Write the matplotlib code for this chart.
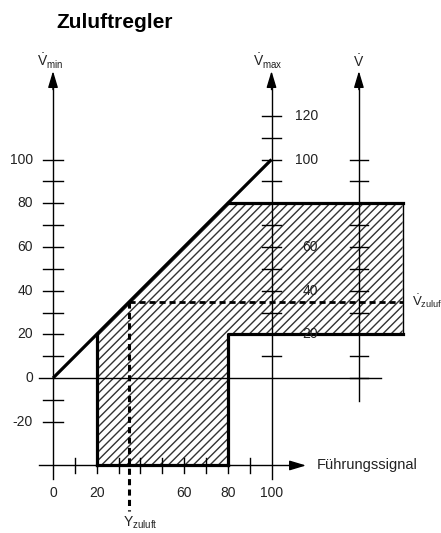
import matplotlib
matplotlib.use("Agg")
import matplotlib.pyplot as plt

plt.rcParams['font.family'] = ['Liberation Sans', 'DejaVu Sans']
plt.rcParams['mathtext.fontset'] = 'custom'
plt.rcParams['mathtext.rm'] = 'Liberation Sans'
plt.rcParams['mathtext.it'] = 'Liberation Sans'
plt.rcParams['hatch.linewidth'] = 1.0

# ---- data ----
title = "Zuluftregler"
x_label = "Führungssignal"
vmin_line_x = [0, 100]
vmin_line_y = [0, 100]
region_x = [20, 20, 80, 160, 160, 80, 80]
region_y = [-40, 20, 80, 80, 20, 20, -40]
y_zuluft = 35
v_zuluft = 35
left_tick_vals = [-20, -10, 10, 20, 30, 40, 50, 60, 70, 80, 90, 100]
left_tick_labels = ["100", "80", "60", "40", "20", "0", "-20"]
left_label_vals = [100, 80, 60, 40, 20, 0, -20]
vmax_tick_vals = [10, 20, 30, 40, 50, 60, 70, 80, 90, 100, 110, 120]
vmax_label_vals = [120, 100, 60, 40, 20]
vmax_labels = ["120", "100", "60", "40", "20"]
v_tick_vals = [0, 10, 20, 30, 40, 50, 60, 70, 80, 90, 100]
x_tick_vals = [10, 20, 30, 40, 50, 60, 70, 80, 90]
x_label_vals = [0, 20, 60, 80, 100]
x_labels = ["0", "20", "60", "80", "100"]
axis_x_vmin = 0
axis_x_vmax = 100
axis_x_v = 140
axis_y_base = -40

fig = plt.figure(figsize=(4.41, 5.33), dpi=100)
ax = fig.add_axes([0, 0, 1, 1])
ax.set_xlim(-24.26, 177.57)
ax.set_ylim(-70.9, 173.0)
ax.axis('off')

thin = 1.0
thick = 2.3
k = 'black'

# hatched region
ax.fill(region_x, region_y, facecolor='white', edgecolor='#333333', hatch='////', linewidth=0, zorder=1)

# zero line
ax.plot([-6.4, 150], [0, 0], color=k, lw=thin, zorder=2)

# vertical axes
ax.plot([axis_x_vmin, axis_x_vmin], [-46, 133], color=k, lw=thin, zorder=2)
ax.plot([axis_x_vmax, axis_x_vmax], [-46, 133], color=k, lw=thin, zorder=2)
ax.plot([axis_x_v, axis_x_v], [-10.5, 133], color=k, lw=thin, zorder=2)
for xa in [axis_x_vmin, axis_x_vmax, axis_x_v]:
    ax.annotate('', xy=(xa, 140.5), xytext=(xa, 132),
                arrowprops=dict(arrowstyle='-|>,head_length=1.0,head_width=0.3',
                                mutation_scale=10, color=k, lw=thin,
                                shrinkA=0, shrinkB=0))
# base (x) axis
ax.plot([-6.4, 110], [axis_y_base, axis_y_base], color=k, lw=thin, zorder=2)
ax.annotate('', xy=(115.8, axis_y_base), xytext=(108, axis_y_base),
            arrowprops=dict(arrowstyle='-|>,head_length=1.0,head_width=0.3',
                            mutation_scale=10, color=k, lw=thin,
                            shrinkA=0, shrinkB=0))

# ticks
for v in left_tick_vals:
    ax.plot([axis_x_vmin - 4.4, axis_x_vmin + 4.4], [v, v], color=k, lw=thin, zorder=2)
for v in vmax_tick_vals:
    ax.plot([axis_x_vmax - 4.2, axis_x_vmax + 4.2], [v, v], color=k, lw=thin, zorder=2)
for v in v_tick_vals:
    ax.plot([axis_x_v - 4.2, axis_x_v + 4.2], [v, v], color=k, lw=thin, zorder=2)
for v in x_tick_vals:
    ax.plot([v, v], [axis_y_base - 3.4, axis_y_base + 3.4], color=k, lw=thin, zorder=2)

# thick outlines
ax.plot(vmin_line_x, vmin_line_y, color=k, lw=thick, zorder=3, solid_capstyle='butt')
ax.plot([region_x[0], region_x[1]], [region_y[0], region_y[1]], color=k, lw=thick, zorder=3)
ax.plot([region_x[2], region_x[3]], [region_y[2], region_y[3]], color=k, lw=thick, zorder=3)
ax.plot([region_x[3], region_x[4]], [region_y[3], region_y[4]], color=k, lw=thin, zorder=3)
ax.plot([region_x[4], region_x[5], region_x[6]], [region_y[4], region_y[5], region_y[6]],
        color=k, lw=thick, zorder=3)
ax.plot([region_x[6], region_x[0]], [region_y[6], region_y[0]], color=k, lw=thick, zorder=3)

# operating point dashed lines
ax.plot([y_zuluft, 160], [v_zuluft, v_zuluft], color=k, lw=2.0, dashes=(2.2, 1.4), zorder=4)
ax.plot([y_zuluft, y_zuluft], [v_zuluft, -61], color=k, lw=2.2, dashes=(2.0, 1.4), zorder=4)

# labels
fs = 10
for v, t in zip(left_label_vals, left_tick_labels):
    ax.text(-9.2, v, t, ha='right', va='center', fontsize=fs, color='#222222')
for v, t in zip(vmax_label_vals, vmax_labels):
    ax.text(121.3, v, t, ha='right', va='center', fontsize=fs, color='#222222')
for v, t in zip(x_label_vals, x_labels):
    ax.text(v, -52.6, t, ha='center', va='center', fontsize=fs, color='#222222')

ax.text(120.8, axis_y_base, x_label, ha='left', va='center', fontsize=10.5, color='#222222')
ax.text(28.4, 162.9, title, ha='center', va='center', fontsize=15, fontweight='bold')

ax.text(-7.3, 142.3, r'$\dot{\mathrm{V}}_{\mathrm{min}}$', ha='left', va='baseline', fontsize=10, color='#222222')
ax.text(91.5, 142.3, r'$\dot{\mathrm{V}}_{\mathrm{max}}$', ha='left', va='baseline', fontsize=10, color='#222222')
ax.text(axis_x_v, 142.3, r'$\dot{\mathrm{V}}$', ha='center', va='baseline', fontsize=10, color='#222222')
ax.text(164.3, v_zuluft, r'$\dot{\mathrm{V}}_{\mathrm{zuluft}}$', ha='left', va='center', fontsize=9.5, color='#222222')
ax.text(32, -68.0, r'$\mathrm{Y}_{\mathrm{zuluft}}$', ha='left', va='baseline', fontsize=10, color='#222222')

fig.savefig('out.png', dpi=100)
